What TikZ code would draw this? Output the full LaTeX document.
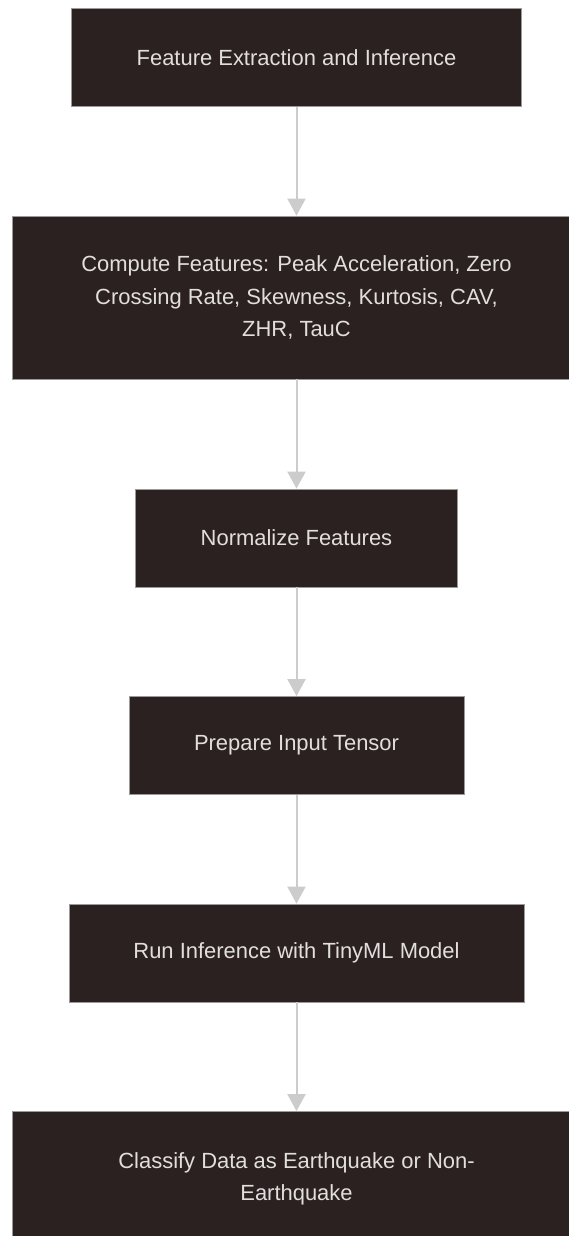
\documentclass[tikz,border=0pt]{standalone}
\usepackage{fontspec}
\setmainfont{Liberation Sans}
\usetikzlibrary{arrows.meta}
\definecolor{boxfill}{HTML}{2C2121}
\definecolor{boxline}{HTML}{9A9A9A}
\definecolor{boxtext}{HTML}{E2DEDE}
\definecolor{linkgray}{HTML}{CCCCCC}
\tikzset{
  stepbox/.style={draw=boxline, line width=0.8pt, fill=boxfill, text=boxtext,
    inner sep=0pt, align=center, font=\fontsize{21.95}{32.5}\selectfont},
  flow/.style={draw=linkgray, line width=2pt,
    -{Triangle[width=18pt,length=17pt,fill=linkgray]}}
}
\begin{document}
\begin{tikzpicture}[x=1pt,y=-1pt]
  \useasboundingbox (0,0) rectangle (569,1236);
  \clip (0,0) rectangle (569,1236);
  \fill[white] (0,0) rectangle (569,1236);

  % process steps, top to bottom
  \node[stepbox, minimum width=450pt, minimum height=98pt] (b1) at (296.5,57.5)
    {Feature Extraction and Inference};
  \node[stepbox, minimum width=569pt, minimum height=163pt] (b2) at (296.5,297.5)
    {Compute Features: Peak Acceleration, Zero\\Crossing Rate, Skewness, Kurtosis, CAV,\\ZHR, TauC};
  \node[stepbox, minimum width=322pt, minimum height=98pt] (b3) at (296.5,538)
    {Normalize Features};
  \node[stepbox, minimum width=335pt, minimum height=98pt] (b4) at (296.5,745.5)
    {Prepare Input Tensor};
  \node[stepbox, minimum width=455pt, minimum height=98pt] (b5) at (296.5,953)
    {Run Inference with TinyML Model};
  \node[stepbox, minimum width=569pt, minimum height=135pt] (b6) at (296.5,1179)
    {Classify Data as Earthquake or Non-\\Earthquake};

  % connectors
  \draw[flow] (b1.south) -- (b2.north);
  \draw[flow] (b2.south) -- (b3.north);
  \draw[flow] (b3.south) -- (b4.north);
  \draw[flow] (b4.south) -- (b5.north);
  \draw[flow] (b5.south) -- (b6.north);
\end{tikzpicture}
\end{document}
